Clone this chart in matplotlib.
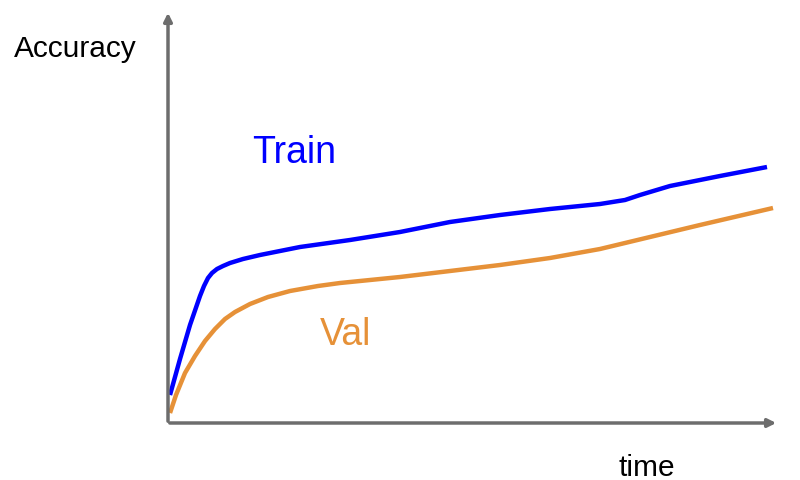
import matplotlib.pyplot as plt
import numpy as np

# curves, x/y measured from the axes origin
train_x = [2, 12, 22, 32, 36, 40, 44, 49, 55, 62, 75, 92, 132, 182, 232, 282, 332, 382, 432, 457, 472, 502, 552, 599]
train_y = [28, 64, 98, 127, 137, 145, 150, 154, 157, 160, 164, 168, 176, 183, 191, 201, 208, 214, 219, 223, 228, 237, 247, 256]
val_x = [2, 8, 17, 27, 37, 47, 57, 67, 82, 100, 122, 150, 172, 232, 282, 332, 382, 432, 482, 532, 605]
val_y = [10, 28, 50, 67, 82, 94, 104, 111, 119, 126, 132, 137, 140, 146, 152, 158, 165, 174, 186, 198, 215]

blue = '#0000ff'
orange = '#e69138'
grey = '#6d6d6d'

plt.rcParams['font.family'] = ['Liberation Sans', 'DejaVu Sans']

fig = plt.figure(figsize=(8, 4.81), dpi=100)
ax = fig.add_axes([0, 0, 1, 1])
ax.set_xlim(-168, 632)
ax.set_ylim(-57, 424)
ax.axis('off')

# axes with arrow heads
ax.annotate('', xy=(0, 413), xytext=(0, -1),
            arrowprops=dict(arrowstyle='-|>', color=grey, lw=2.5, mutation_scale=12))
ax.annotate('', xy=(611, 0), xytext=(-1, 0),
            arrowprops=dict(arrowstyle='-|>', color=grey, lw=2.5, mutation_scale=12))

ax.plot(train_x, train_y, color=blue, lw=3.2, solid_capstyle='butt')
ax.plot(val_x, val_y, color=orange, lw=3.2, solid_capstyle='butt')

ax.text(-154, 375, 'Accuracy', fontsize=21.5, ha='left', va='center')
ax.text(479, -44, 'time', fontsize=21.5, ha='center', va='center')
ax.text(126, 271, 'Train', fontsize=27, color=blue, ha='center', va='center')
ax.text(178, 89, 'Val', fontsize=27, color=orange, ha='center', va='center')

plt.savefig('out.png', dpi=100)
